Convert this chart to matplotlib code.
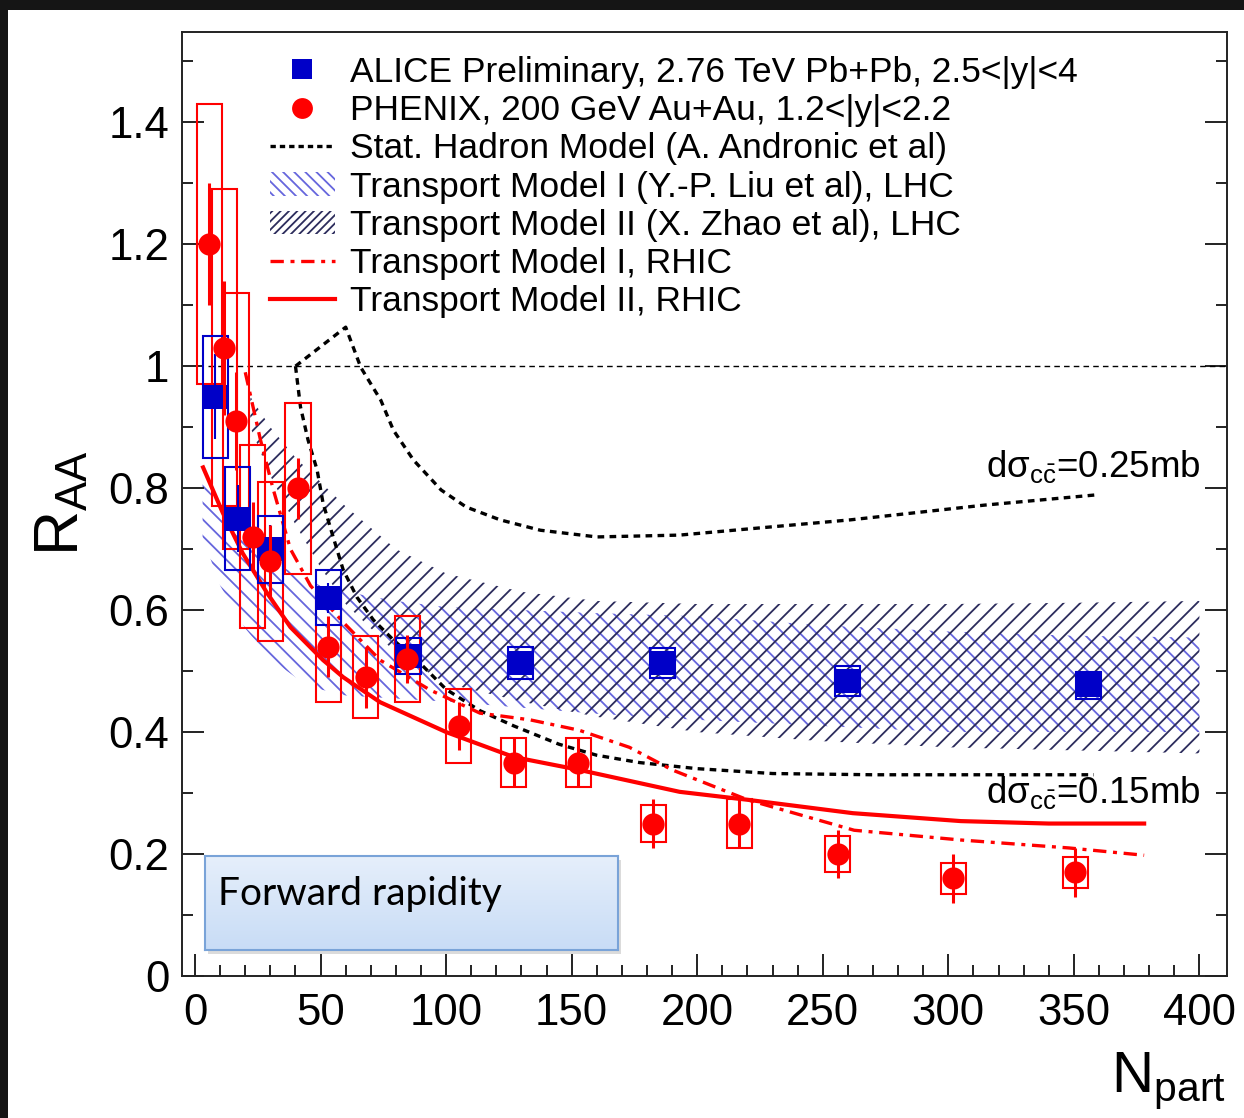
import numpy as np
import matplotlib
matplotlib.use('Agg')
import matplotlib.pyplot as plt
from matplotlib.lines import Line2D
from matplotlib.patches import Patch, Rectangle
from matplotlib.colors import LinearSegmentedColormap

plt.rcParams['font.family'] = ['Liberation Sans', 'DejaVu Sans']
plt.rcParams['mathtext.fontset'] = 'custom'
plt.rcParams['mathtext.rm'] = 'Liberation Sans'
plt.rcParams['mathtext.it'] = 'Liberation Sans:italic'
plt.rcParams['mathtext.bf'] = 'Liberation Sans:bold'
plt.rcParams['hatch.linewidth'] = 1.3

# ALICE, 2.76 TeV Pb+Pb, forward y
alice_npart = [8, 17, 30, 53, 85, 129.5, 186, 260, 356]
alice_raa = [0.95, 0.75, 0.70, 0.62, 0.525, 0.513, 0.513, 0.484, 0.477]
alice_stat = [0.07, 0.055, 0.04, 0.025, 0.02, 0.015, 0.015, 0.015, 0.015]
alice_syst = [0.10, 0.085, 0.055, 0.045, 0.03, 0.026, 0.025, 0.025, 0.022]

# PHENIX, 200 GeV Au+Au, forward y
phenix_npart = [5.6, 11.6, 16.3, 23, 30, 41, 53, 68, 84.5, 105, 127, 152.6,
                182.5, 216.7, 256, 302, 350.6]
phenix_raa = [1.20, 1.03, 0.91, 0.72, 0.68, 0.80, 0.54, 0.49, 0.52, 0.41, 0.35,
              0.35, 0.25, 0.25, 0.20, 0.16, 0.17]
phenix_stat = [0.10, 0.11, 0.08, 0.057, 0.06, 0.05, 0.05, 0.05, 0.04, 0.04,
               0.04, 0.04, 0.04, 0.04, 0.04, 0.04, 0.04]
phenix_syst = [0.23, 0.26, 0.21, 0.15, 0.13, 0.14, 0.09, 0.067, 0.07, 0.06,
               0.04, 0.04, 0.03, 0.04, 0.03, 0.025, 0.025]
box_width = 10

# statistical hadronization model, two charm cross sections
shm_hi_x = [40, 50, 60, 66, 74, 79, 87, 98, 108, 121.5, 137.5, 160, 193, 220,
            261, 314, 359]
shm_hi_y = [1.0, 1.032, 1.064, 0.998, 0.944, 0.895, 0.846, 0.797, 0.769, 0.748,
            0.731, 0.72, 0.723, 0.733, 0.748, 0.772, 0.789]
shm_lo_x = [40, 42, 45, 48.6, 51, 55, 59, 64.5, 71, 79, 89.6, 100, 113.5, 127,
            145, 160, 177, 200, 230, 270, 320, 358]
shm_lo_y = [1.0, 0.933, 0.879, 0.83, 0.775, 0.72, 0.666, 0.621, 0.584, 0.551,
            0.513, 0.47, 0.435, 0.41, 0.38, 0.362, 0.35, 0.34, 0.332, 0.33,
            0.33, 0.33]

# transport model I (Liu et al), LHC band
tm1_lhc_x = [3, 10, 20, 30, 40, 50, 60, 80, 100, 130, 160, 200, 250, 300, 350, 400]
tm1_lhc_hi = [0.82, 0.76, 0.71, 0.68, 0.66, 0.64, 0.63, 0.615, 0.605, 0.60,
              0.595, 0.59, 0.575, 0.565, 0.558, 0.555]
tm1_lhc_lo = [0.72, 0.64, 0.57, 0.52, 0.49, 0.47, 0.46, 0.455, 0.45, 0.44,
              0.43, 0.42, 0.41, 0.40, 0.40, 0.40]

# transport model II (Zhao et al), LHC band
tm2_lhc_x = [22, 30, 40, 50, 60, 80, 100, 130, 160, 200, 250, 300, 350, 400]
tm2_lhc_hi = [0.95, 0.90, 0.85, 0.81, 0.77, 0.70, 0.66, 0.63, 0.615, 0.61,
              0.61, 0.61, 0.612, 0.615]
tm2_lhc_lo = [0.90, 0.82, 0.74, 0.67, 0.61, 0.53, 0.48, 0.45, 0.425, 0.40,
              0.385, 0.375, 0.37, 0.365]

# transport models at RHIC
tm1_rhic_x = [20, 26, 31, 38, 42, 46, 59, 73.7, 93.6, 113.5, 133.5, 153, 173,
              190, 220, 262.5, 305, 348, 378]
tm1_rhic_y = [0.99, 0.88, 0.80, 0.70, 0.67, 0.64, 0.58, 0.518, 0.469, 0.431,
              0.42, 0.403, 0.375, 0.338, 0.289, 0.239, 0.223, 0.21, 0.198]
tm2_rhic_x = [3.2, 11, 19, 28.7, 38, 51, 59, 73.7, 100, 127, 153, 193, 220,
              262, 305, 340, 378]
tm2_rhic_y = [0.834, 0.76, 0.693, 0.628, 0.572, 0.518, 0.49, 0.449, 0.40,
              0.359, 0.338, 0.302, 0.289, 0.267, 0.254, 0.25, 0.25]

blue = '#0000c8'
red = '#ff0000'
c_tm1 = '#6666dd'
c_tm2 = '#2c2c5c'

fig = plt.figure(figsize=(12.44, 11.18), dpi=100, facecolor='#151515')
fig.patches.append(Rectangle((8 / 1244, 0), 1, 1 - 10 / 1118, transform=fig.transFigure,
                             facecolor='white', edgecolor='none', zorder=-5))
ax = fig.add_axes([182 / 1244, 142 / 1118, 1045 / 1244, 944 / 1118], zorder=1)
ax.set_xlim(-5.2, 411)
ax.set_ylim(0, 1.548)

# bands
ax.fill_between(tm1_lhc_x, tm1_lhc_lo, tm1_lhc_hi, facecolor='none',
                edgecolor=c_tm1, hatch='\\\\', linewidth=0, zorder=1)
ax.fill_between(tm2_lhc_x, tm2_lhc_lo, tm2_lhc_hi, facecolor='none',
                edgecolor=c_tm2, hatch='//', linewidth=0, zorder=1)

# model lines
ax.axhline(1.0, xmin=0.025, color='k', lw=1.0, ls=(0, (4, 3)), zorder=2)
ax.plot(shm_hi_x, shm_hi_y, color='k', lw=2.4, ls=(0, (2, 1.6)), zorder=3)
ax.plot(shm_lo_x, shm_lo_y, color='k', lw=2.4, ls=(0, (2, 1.6)), zorder=3)
ax.plot(tm1_rhic_x, tm1_rhic_y, color=red, lw=2.4, ls=(0, (4, 2, 1.2, 2)), zorder=3)
ax.plot(tm2_rhic_x, tm2_rhic_y, color=red, lw=3.0, zorder=3)

# systematic boxes
ax.bar(phenix_npart, 2 * np.array(phenix_syst), bottom=np.array(phenix_raa) - phenix_syst,
       width=box_width, fill=False, edgecolor=red, linewidth=1.5, zorder=4)
ax.bar(alice_npart, 2 * np.array(alice_syst), bottom=np.array(alice_raa) - alice_syst,
       width=box_width, fill=False, edgecolor=blue, linewidth=1.5, zorder=4)

# points
ax.errorbar(alice_npart, alice_raa, yerr=alice_stat, fmt='s', color=blue, ms=17,
            mew=0, elinewidth=1.5, capsize=7, capthick=1.5, zorder=5)
ax.errorbar(phenix_npart, phenix_raa, yerr=phenix_stat, fmt='o', color=red, ms=16,
            mew=0, elinewidth=2.2, capsize=14, capthick=1.8, zorder=6)

# axes styling
for s in ax.spines.values():
    s.set_linewidth(1.4)
    s.set_color('#222222')
ax.set_xticks(np.arange(0, 401, 50))
ax.set_xticks(np.arange(0, 401, 10), minor=True)
ax.set_yticks(np.arange(0, 1.41, 0.2))
ax.set_yticks(np.arange(0, 1.55, 0.1), minor=True)
ax.set_yticklabels(['0', '0.2', '0.4', '0.6', '0.8', '1', '1.2', '1.4'])
ax.tick_params(which='both', direction='in', right=True, top=False,
               labelsize=31.5, colors='#222222', width=1.4)
ax.tick_params(which='major', length=16)
ax.tick_params(which='minor', length=8)
ax.tick_params(axis='y', pad=9)
ax.tick_params(axis='x', pad=12)
for lab in ax.get_xticklabels() + ax.get_yticklabels():
    lab.set_color('black')

# cross section annotations
ax.text(400.4, 0.818, r'dσ$_{\rm c\bar{c}}$=0.25mb', fontsize=26.5,
        ha='right', va='baseline', zorder=7)
ax.text(400.4, 0.284, r'dσ$_{\rm c\bar{c}}$=0.15mb', fontsize=26.5,
        ha='right', va='baseline', zorder=7)

# legend
handles = [
    Line2D([], [], ls='none', marker='s', color=blue, ms=14, mew=0),
    Line2D([], [], ls='none', marker='o', color=red, ms=15, mew=0),
    Line2D([], [], color='k', lw=2.4, ls=(0, (1.6, 1.2))),
    Patch(facecolor='none', edgecolor=c_tm1, hatch='\\\\\\', lw=0),
    Patch(facecolor='none', edgecolor=c_tm2, hatch='////', lw=0),
    Line2D([], [], color=red, lw=2.4, ls=(0, (4, 2, 1.2, 2))),
    Line2D([], [], color=red, lw=3.0),
]
labels = [
    'ALICE Preliminary, 2.76 TeV Pb+Pb, 2.5<|y|<4',
    'PHENIX, 200 GeV Au+Au, 1.2<|y|<2.2',
    'Stat. Hadron Model (A. Andronic et al)',
    'Transport Model I (Y.-P. Liu et al), LHC',
    'Transport Model II (X. Zhao et al), LHC',
    'Transport Model I, RHIC',
    'Transport Model II, RHIC',
]
leg = ax.legend(handles, labels, loc='upper left', bbox_to_anchor=(0.084, 0.975),
                frameon=False, fontsize=25.5, borderpad=0, borderaxespad=0,
                handlelength=1.84, handleheight=0.65, handletextpad=0.42,
                labelspacing=0.15)
leg.set_zorder(8)

# axis titles
fig.text(62 / 1244, 1 - 503 / 1118, r'R$_{\rm AA}$', fontsize=45, rotation=90,
         ha='center', va='center')
fig.text(1226 / 1244, 1 - 1092 / 1118, r'N$_{\rm part}$', fontsize=42,
         ha='right', va='baseline')

# "Forward rapidity" call-out box
bx0, by0, bw, bh = 205 / 1244, 1 - 950 / 1118, 413 / 1244, 94 / 1118
fig.patches.append(Rectangle((bx0 + 3 / 1244, by0 - 4 / 1118), bw, bh,
                             transform=fig.transFigure, facecolor='#999999',
                             alpha=0.35, edgecolor='none', zorder=9))
bax = fig.add_axes([bx0, by0, bw, bh], zorder=10)
grad = np.linspace(0, 1, 100).reshape(-1, 1)
cmap = LinearSegmentedColormap.from_list('box', ['#e6effb', '#c8dcf6'])
bax.imshow(grad, aspect='auto', cmap=cmap, extent=[0, 1, 0, 1], origin='upper')
bax.set_xticks([])
bax.set_yticks([])
for s in bax.spines.values():
    s.set_color('#79a3d8')
    s.set_linewidth(1.5)
bax.text(13 / 413, 45 / 94, 'Forward rapidity', fontsize=28, family='Lato',
         ha='left', va='baseline', transform=bax.transAxes)

fig.savefig('out.png', dpi=100, facecolor=fig.get_facecolor())
